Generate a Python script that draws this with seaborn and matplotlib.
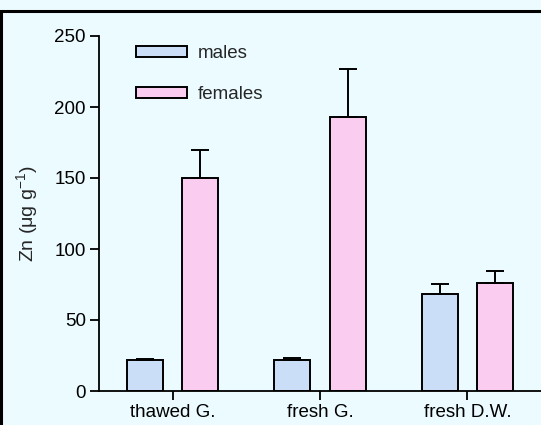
import pandas as pd
import matplotlib.pyplot as plt
import numpy as np
import seaborn as sns
from matplotlib.lines import Line2D

groups = ['thawed G.', 'fresh G.', 'fresh D.W.']
sexes = ['males', 'females']
males_mean = [22, 21.5, 68]
males_err = [0.8, 2, 7.5]
females_mean = [150, 193, 76]
females_err = [20, 34, 8.5]

bg = '#ebfbff'
colors = {'males': '#cadff7', 'females': '#f9ccf0'}


def main():
    sns.set_style('ticks')
    plt.rcParams['font.family'] = ['Liberation Sans', 'DejaVu Sans']
    plt.rcParams['mathtext.fontset'] = 'custom'
    plt.rcParams['mathtext.rm'] = 'Liberation Sans'
    plt.rcParams['mathtext.it'] = 'Liberation Sans:italic'

    df = pd.DataFrame({
        'group': groups * 2,
        'sex': ['males'] * 3 + ['females'] * 3,
        'zn': males_mean + females_mean,
        'err': males_err + females_err,
    })

    fig = plt.figure(figsize=(5.41, 4.25), dpi=100, facecolor=bg)
    ax = fig.add_axes([99 / 541, 34 / 425, 442 / 541, 355 / 425])
    ax.set_facecolor(bg)

    sns.barplot(data=df, x='group', y='zn', hue='sex', order=groups,
                hue_order=sexes, palette=colors, saturation=1, width=0.75,
                gap=0.35, edgecolor='black', linewidth=1.4, errorbar=None,
                ax=ax)

    # upper error bars only, placed on the drawn bars
    for cont, sex in zip(ax.containers, sexes):
        xs = [b.get_x() + b.get_width() / 2 for b in cont]
        sub = df[df['sex'] == sex].set_index('group').loc[groups]
        ax.errorbar(xs, sub['zn'], yerr=[np.zeros(3), sub['err']], fmt='none',
                    ecolor='black', elinewidth=1.4, capsize=6.8,
                    capthick=1.4, zorder=1)

    ax.set_xlim(-0.5, 2.5)
    ax.set_ylim(0, 250)
    ax.set_yticks(np.arange(0, 251, 50))
    ax.set_xlabel('')
    ax.set_ylabel('Zn (μg g$^{-1}$)', fontsize=14)
    ax.yaxis.set_label_coords(-0.134, 0.5)
    ax.tick_params(labelsize=13.5, width=1.3, length=6.5, color='black',
                   labelcolor='black', pad=3)
    sns.despine(ax=ax)
    for s in ['left', 'bottom']:
        ax.spines[s].set_linewidth(1.3)
        ax.spines[s].set_color('black')

    handles, labels = ax.get_legend_handles_labels()
    ax.legend(handles, labels, loc='upper left',
              bbox_to_anchor=(136 / 541, (425 - 45) / 425),
              bbox_transform=fig.transFigure, frameon=False, fontsize=13.5,
              handlelength=2.72, handleheight=0.48, labelspacing=1.28,
              handletextpad=0.59, borderpad=0, borderaxespad=0)

    # frame at top and left of the picture
    fig.add_artist(Line2D([0, 1], [1 - 10.5 / 425] * 2, color='black',
                          lw=2.2, transform=fig.transFigure))
    fig.add_artist(Line2D([0.8 / 541] * 2, [0, 1 - 10.5 / 425], color='black',
                          lw=2.2, transform=fig.transFigure))

    plt.savefig('out.png', dpi=100, facecolor=bg)


if __name__ == '__main__':
    main()
